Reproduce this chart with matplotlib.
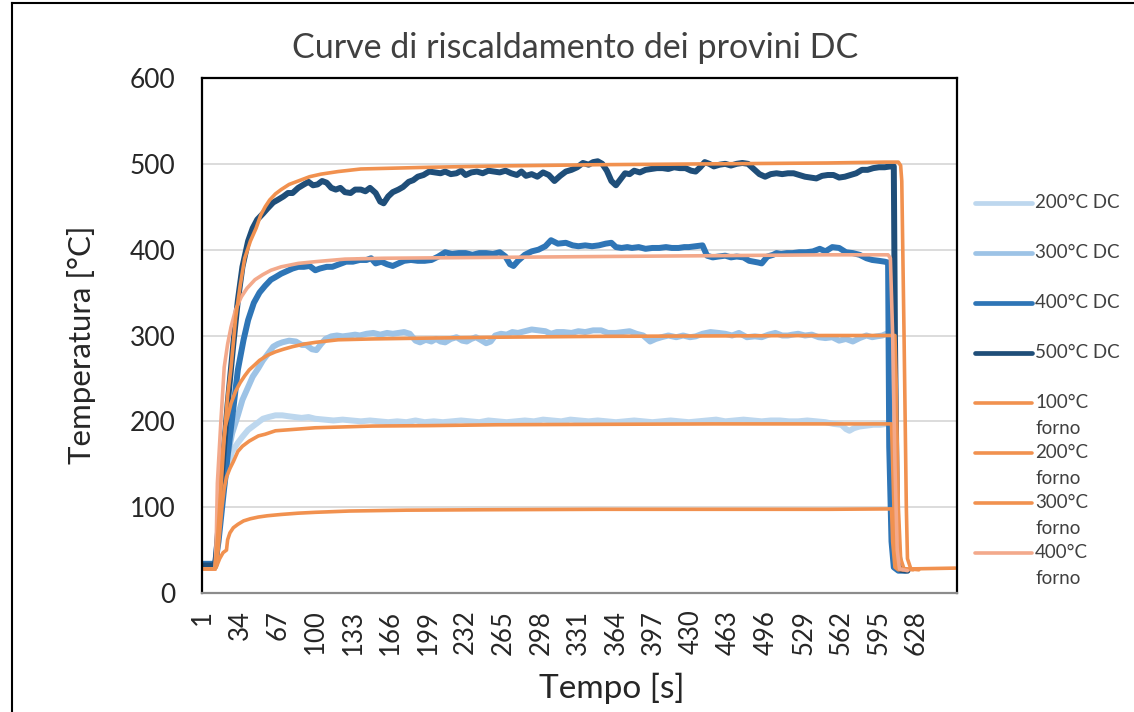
import matplotlib
matplotlib.use("Agg")
import matplotlib.pyplot as plt
from matplotlib.lines import Line2D

plt.rcParams['font.family'] = ['Lato', 'DejaVu Sans']

# ---------------- data ----------------
XTICKS = list(range(1, 629, 33))
YTICKS = [0, 100, 200, 300, 400, 500, 600]

T_200DC = [1, 10, 12, 14, 17, 20, 23, 27, 32, 36,
           41, 45, 50, 54, 59, 65, 71, 76, 82, 88,
           94, 100, 108, 116, 124, 132, 140, 148, 156, 164,
           172, 180, 188, 196, 204, 212, 220, 228, 236, 244,
           252, 260, 268, 276, 284, 292, 300, 308, 316, 324,
           332, 340, 348, 356, 364, 372, 380, 388, 396, 404,
           412, 420, 428, 436, 444, 452, 460, 468, 476, 484,
           492, 500, 508, 516, 524, 532, 540, 548, 555, 562,
           566, 569, 573, 578, 584, 590, 596, 602, 604, 606,
           608, 612, 620]
V_200DC = [30, 30, 32, 60, 100, 125, 147, 165, 175, 182,
           190, 194, 199, 203, 205, 207, 207, 206, 205, 204,
           205, 203, 202, 201, 202, 201, 200, 201, 200, 199,
           200, 199, 201, 199, 200, 199, 200, 201, 200, 199,
           201, 200, 199, 200, 201, 200, 202, 201, 200, 202,
           201, 200, 201, 200, 199, 200, 201, 200, 199, 200,
           201, 200, 199, 200, 201, 202, 200, 201, 202, 201,
           200, 201, 201, 200, 200, 201, 200, 199, 197, 196,
           191, 189, 192, 194, 195, 196, 196, 197, 196, 100,
           40, 27, 26]

T_300DC = [1, 10, 12, 15, 19, 23, 27, 32, 36, 41,
           45, 50, 54, 58, 63, 67, 71, 77, 83, 88,
           92, 97, 101, 105, 109, 114, 119, 124, 130, 135,
           139, 145, 151, 157, 163, 168, 173, 178, 183, 188,
           192, 197, 202, 206, 210, 214, 219, 224, 229, 233,
           237, 241, 245, 250, 254, 258, 263, 268, 273, 278,
           284, 290, 296, 302, 307, 312, 318, 325, 331, 337,
           344, 351, 357, 364, 370, 376, 382, 388, 394, 399,
           404, 410, 417, 423, 429, 434, 440, 447, 454, 460,
           466, 472, 479, 486, 492, 498, 504, 510, 515, 519,
           524, 530, 536, 542, 548, 554, 560, 566, 572, 578,
           584, 589, 593, 598, 603, 605, 607, 610, 616]
V_300DC = [32, 32, 32, 70, 120, 160, 186, 207, 225, 240,
           252, 262, 271, 278, 287, 290, 292, 294, 293, 289,
           289, 284, 283, 290, 296, 299, 300, 299, 300, 301,
           300, 302, 303, 301, 303, 302, 303, 304, 302, 294,
           292, 295, 293, 296, 293, 292, 296, 298, 294, 293,
           296, 298, 295, 291, 293, 300, 302, 301, 304, 303,
           305, 307, 306, 305, 302, 304, 304, 303, 305, 304,
           306, 306, 303, 303, 304, 305, 302, 300, 293, 296,
           298, 300, 298, 300, 298, 299, 302, 304, 303, 302,
           300, 303, 298, 299, 298, 301, 303, 300, 300, 301,
           302, 300, 301, 298, 297, 298, 294, 296, 293, 297,
           300, 298, 299, 300, 303, 302, 170, 40, 27]

T_400DC = [1, 10, 12, 15, 19, 23, 28, 32, 37, 41,
           46, 51, 56, 61, 65, 70, 75, 80, 85, 90,
           95, 100, 104, 110, 115, 121, 127, 133, 139, 145,
           149, 153, 158, 163, 168, 173, 178, 184, 190, 196,
           202, 208, 214, 220, 226, 232, 238, 244, 250, 256,
           262, 267, 271, 274, 278, 284, 290, 296, 302, 307,
           313, 320, 326, 331, 337, 343, 349, 355, 360, 364,
           369, 374, 378, 384, 390, 396, 402, 408, 413, 419,
           424, 428, 434, 440, 444, 449, 454, 460, 465, 470,
           476, 481, 485, 489, 492, 497, 502, 505, 509, 514,
           519, 525, 531, 537, 543, 548, 554, 560, 566, 572,
           578, 584, 589, 595, 600, 603, 604, 606, 608, 612,
           618]
V_400DC = [34, 34, 32, 60, 110, 160, 215, 260, 295, 318,
           338, 350, 358, 365, 368, 372, 375, 378, 380, 380,
           381, 376, 378, 380, 380, 383, 386, 386, 388, 388,
           390, 384, 386, 383, 381, 384, 387, 388, 387, 387,
           388, 392, 397, 395, 396, 396, 394, 396, 396, 395,
           397, 392, 383, 381, 387, 394, 398, 400, 404, 411,
           407, 408, 405, 404, 405, 404, 405, 407, 408, 403,
           402, 403, 402, 403, 401, 402, 402, 403, 402, 402,
           403, 403, 404, 405, 393, 391, 392, 393, 391, 392,
           391, 387, 386, 385, 384, 392, 394, 396, 395, 396,
           396, 397, 397, 398, 401, 398, 403, 402, 397, 396,
           394, 390, 388, 387, 386, 385, 170, 60, 30, 26,
           26]

T_500DC = [1, 10, 12, 14, 18, 23, 28, 32, 36, 41,
           45, 49, 54, 58, 63, 67, 72, 76, 80, 85,
           90, 94, 98, 102, 106, 110, 114, 118, 122, 126,
           131, 135, 140, 144, 148, 153, 157, 160, 164, 168,
           173, 177, 182, 186, 190, 195, 200, 205, 210, 214,
           219, 224, 228, 232, 237, 242, 247, 252, 257, 262,
           267, 272, 277, 281, 285, 290, 295, 300, 305, 310,
           315, 320, 325, 330, 335, 340, 344, 348, 352, 356,
           360, 364, 368, 372, 376, 380, 385, 390, 395, 400,
           405, 410, 415, 420, 425, 430, 434, 438, 442, 446,
           450, 455, 460, 465, 470, 475, 480, 485, 490, 495,
           500, 505, 510, 515, 520, 525, 530, 535, 540, 545,
           550, 555, 560, 565, 570, 575, 580, 585, 590, 595,
           600, 605, 608, 609, 611, 614, 620]
V_500DC = [32, 32, 31, 60, 140, 220, 290, 341, 380, 410,
           425, 435, 442, 448, 455, 458, 462, 466, 466, 472,
           476, 479, 475, 476, 480, 478, 472, 470, 472, 467,
           466, 470, 470, 468, 472, 466, 456, 454, 462, 467,
           470, 473, 479, 481, 485, 487, 491, 490, 489, 491,
           488, 489, 492, 487, 490, 491, 489, 492, 491, 490,
           492, 489, 487, 491, 486, 488, 485, 490, 487, 480,
           486, 491, 493, 496, 501, 499, 502, 503, 500, 492,
           480, 475, 482, 489, 488, 492, 490, 493, 494, 495,
           495, 494, 496, 495, 495, 492, 491, 496, 502, 500,
           497, 499, 500, 498, 500, 501, 500, 494, 488, 485,
           488, 489, 488, 489, 489, 487, 485, 484, 483, 486,
           487, 487, 484, 485, 487, 489, 493, 493, 495, 496,
           496, 497, 497, 300, 60, 27, 26]

T_100F = [1, 12, 13, 16, 19, 22, 23, 25, 28, 32, 37, 43, 50, 58, 70,
          85, 100, 130, 180, 250, 350, 450, 550, 606, 607, 609, 612, 620, 662]
V_100F = [28, 28, 30, 40, 47, 50, 62, 70, 76, 80, 84, 86.5, 88.5, 90, 91.5,
          93, 94, 95.5, 96.5, 97, 97.5, 97.5, 97.5, 98, 60, 30, 27, 28, 29]

T_200F = [1, 12, 14, 16, 18, 20, 22, 25, 28, 32, 36, 42, 50, 56, 65,
          75, 85, 100, 125, 150, 200, 260, 350, 450, 550, 606, 607, 609, 611, 616]
V_200F = [28, 28, 40, 70, 100, 122, 135, 145, 153, 165, 171, 177, 183, 185, 189,
          190, 191, 192.5, 193.5, 194.5, 195, 196, 196.5, 197, 197, 197, 150, 60, 30, 27]

T_300F = [1, 12, 13, 14, 17, 21, 26, 30, 34, 38, 42, 47, 51, 58, 65, 72,
          80, 90, 100, 120, 150, 200, 260, 350, 450, 550, 609, 610, 612, 614, 617, 625]
V_300F = [28, 28, 50, 89, 147, 194, 221, 235, 245, 253, 260, 266, 271, 277, 281, 284,
          287, 290, 292, 295, 296, 297, 298, 299, 299.5, 300, 300, 250, 100, 40, 28, 27]

T_400F = [1, 12, 13, 14, 17, 20, 23, 26, 30, 35, 40, 47, 54, 61, 70,
          85, 100, 126, 160, 256, 350, 450, 550, 603, 605, 607, 609, 611, 613, 620]
V_400F = [28, 28, 60, 128, 198, 263, 290, 310, 330, 345, 355, 365, 371, 376, 380,
          384, 386, 389, 390, 391, 392, 393, 394, 394, 390, 300, 150, 50, 28, 26]

T_500F = [1, 12, 14, 17, 20, 23, 26, 30, 34, 38, 43, 48, 52, 56, 60, 65, 70, 77, 85,
          95, 105, 120, 140, 170, 200, 260, 350, 450, 550, 600, 612, 614, 615, 617,
          619, 620, 623, 630]
V_500F = [28, 28, 60, 120, 180, 230, 263, 320, 358, 390, 410, 425, 440, 450, 458, 465, 470, 476, 480,
          485, 488, 491, 494, 495, 496, 497.5, 499, 500, 501, 502, 502, 498, 480, 300,
          100, 40, 28, 27]

SERIES = [
    ("200°C DC", T_200DC, V_200DC, "#BDD7EE", 4.3),
    ("300°C DC", T_300DC, V_300DC, "#9DC3E6", 4.3),
    ("400°C DC", T_400DC, V_400DC, "#2E75B6", 4.3),
    ("500°C DC", T_500DC, V_500DC, "#1F4E79", 4.3),
    ("100°C forno", T_100F, V_100F, "#F1914F", 2.6),
    ("200°C forno", T_200F, V_200F, "#F1914F", 2.6),
    ("300°C forno", T_300F, V_300F, "#F1914F", 2.6),
    ("400°C forno", T_400F, V_400F, "#F3A98B", 2.6),
    ("500°C forno", T_500F, V_500F, "#F1914F", 2.6),
]
LEGEND_LABELS = ["200°C DC", "300°C DC", "400°C DC", "500°C DC",
                 "100°C\nforno", "200°C\nforno", "300°C\nforno", "400°C\nforno"]

# ---------------- figure ----------------
W, H = 1134, 712
fig = plt.figure(figsize=(W / 100, H / 100), dpi=100)
fig.patch.set_facecolor("white")

def fx(x): return x / W
def fy(y): return 1 - y / H

ax = fig.add_axes([fx(202), fy(593), fx(957) - fx(202), fy(78) - fy(593)])

for name, t, v, c, lw in SERIES:
    ax.plot(t, v, color=c, lw=lw, solid_joinstyle="round", solid_capstyle="round")

ax.set_xlim(0.5, 663.5)
ax.set_ylim(0, 600)
ax.set_yticks(YTICKS)
ax.set_xticks(XTICKS)
ax.set_xticklabels([str(v) for v in XTICKS], rotation=90, fontsize=18.5, color="#262626")
ax.set_yticklabels([str(v) for v in YTICKS], fontsize=19, color="#262626")
ax.tick_params(axis="x", length=0, pad=12)
ax.tick_params(axis="y", length=0, pad=19)
ax.grid(axis="y", color="#D9D9D9", lw=1.3)
ax.set_axisbelow(True)
for s in ["top", "left", "right"]:
    ax.spines[s].set_color("black")
    ax.spines[s].set_linewidth(1.6)
ax.spines["bottom"].set_color("#8C8C8C")
ax.spines["bottom"].set_linewidth(1.6)

fig.text(fx(575), fy(48), "Curve di riscaldamento dei provini DC", ha="center", va="center",
         fontsize=24.5, color="#404040")
fig.text(fx(82), fy(345), "Temperatura [°C]", ha="center", va="center", rotation=90,
         fontsize=22.5, color="#262626")
fig.text(fx(612), fy(688), "Tempo [s]", ha="center", va="center", fontsize=24, color="#262626")

# legend (manual placement)
leg_y = [203, 253, 303, 353, 403, 453, 503, 553]
for i, (lab, (name, t, v, c, lw)) in enumerate(zip(LEGEND_LABELS, SERIES[:8])):
    y = leg_y[i]
    fig.add_artist(Line2D([fx(975), fx(1032)], [fy(y), fy(y)], color=c,
                          lw=3.4 if i < 4 else 2.6, solid_capstyle="round"))
    parts = lab.split("\n")
    for j, p in enumerate(parts):
        fig.text(fx(1035), fy(y + 25 * j), p, ha="left", va="center", fontsize=13.5, color="#404040")

# outer frame (top and left edges visible)
fig.add_artist(Line2D([fx(12), fx(1134)], [fy(3), fy(3)], color="black", lw=1.5))
fig.add_artist(Line2D([fx(12), fx(12)], [fy(3), fy(712)], color="black", lw=1.5))

fig.savefig("out.png", dpi=100)
